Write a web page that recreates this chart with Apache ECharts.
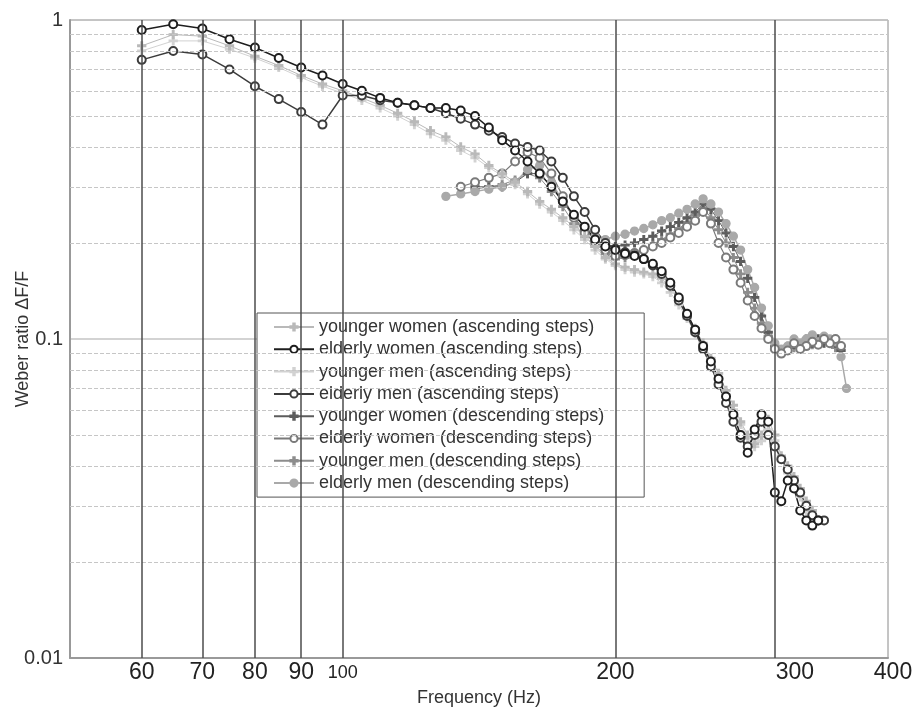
<!DOCTYPE html>
<html>
<head>
<meta charset="utf-8">
<script src="https://cdn.jsdelivr.net/npm/echarts@6/dist/echarts.min.js"></script>
<style>
  html, body { margin: 0; padding: 0; background: #fff; }
  #chart { width: 917px; height: 711px; }
</style>
</head>
<body>
<div id="chart"></div>
<script>
// frequencies (Hz)
const freqAsc = [60, 65, 70, 75, 80, 85, 90, 95, 100, 105, 110, 115, 120, 125, 130, 135, 140, 145, 150, 155,
  160, 165, 170, 175, 180, 185, 190, 195, 200, 205, 210, 215, 220, 225, 230, 235, 240, 245, 250, 255,
  260, 265, 270, 275, 280, 285, 290, 295, 300, 305, 310, 315, 320, 325, 330, 335, 340]
const freqDesc = [360, 355, 350, 345, 340, 335, 330, 325, 320, 315, 310, 305, 300, 295, 290, 285, 280, 275,
  270, 265, 260, 255, 250, 245, 240, 235, 230, 225, 220, 215, 210, 205, 200, 195, 190, 185, 180, 175,
  170, 165, 160, 155, 150, 145, 140, 135, 130]

// Weber ratios, ascending steps
const youngerWomenAsc = [0.83, 0.90, 0.89, 0.83, 0.77, 0.72, 0.67, 0.63, 0.60, 0.57, 0.54, 0.51, 0.48, 0.45, 0.43,
  0.40, 0.38, 0.35, 0.33, 0.31, 0.29, 0.27, 0.255, 0.24, 0.225, 0.21, 0.195, 0.18, 0.172, 0.168, 0.165, 0.162,
  0.16, 0.155, 0.145, 0.133, 0.12, 0.108, 0.097, 0.087, 0.078, 0.069, 0.062, 0.055, 0.05, 0.047, 0.05, 0.056,
  0.05, 0.043, 0.04, 0.037, 0.034, 0.031, 0.029]
const elderlyWomenAsc = [0.93, 0.97, 0.94, 0.87, 0.82, 0.76, 0.71, 0.67, 0.63, 0.60, 0.57, 0.55, 0.54, 0.53, 0.53,
  0.52, 0.50, 0.46, 0.42, 0.39, 0.36, 0.33, 0.30, 0.27, 0.245, 0.225, 0.205, 0.195, 0.19, 0.185, 0.182, 0.178,
  0.172, 0.163, 0.15, 0.135, 0.12, 0.107, 0.095, 0.085, 0.075, 0.066, 0.058, 0.05, 0.044, 0.052, 0.058, 0.055,
  0.033, 0.031, 0.036, 0.034, 0.029, 0.027, 0.026, 0.027]
const youngerMenAsc = [0.80, 0.86, 0.86, 0.81, 0.76, 0.71, 0.66, 0.62, 0.59, 0.56, 0.53, 0.50, 0.47, 0.44, 0.42,
  0.39, 0.37, 0.345, 0.325, 0.305, 0.285, 0.265, 0.25, 0.235, 0.22, 0.205, 0.19, 0.178, 0.17, 0.165, 0.162, 0.16,
  0.157, 0.15, 0.14, 0.128, 0.116, 0.104, 0.094, 0.084, 0.075, 0.067, 0.06, 0.054, 0.049, 0.046, 0.048, 0.052,
  0.048, 0.042, 0.038, 0.035, 0.032, 0.029]
const elderlyMenAsc = [0.75, 0.80, 0.78, 0.70, 0.62, 0.565, 0.515, 0.47, 0.58, 0.58, 0.56, 0.55, 0.54, 0.53, 0.51,
  0.49, 0.47, 0.45, 0.43, 0.41, 0.40, 0.39, 0.36, 0.32, 0.28, 0.25, 0.22, 0.20, 0.192, 0.187, 0.183, 0.178,
  0.17, 0.16, 0.147, 0.132, 0.118, 0.105, 0.093, 0.082, 0.072, 0.063, 0.055, 0.049, 0.046, 0.05, 0.055, 0.05,
  0.046, 0.042, 0.039, 0.036, 0.033, 0.03, 0.028, 0.027, 0.027]

// Weber ratios, descending steps (null = no step at that frequency)
const youngerWomenDesc = [null, 0.092, 0.097, 0.099, 0.097, 0.1, 0.097, 0.098, 0.095, 0.096, 0.094, 0.091, 0.095,
  0.105, 0.118, 0.135, 0.155, 0.175, 0.195, 0.215, 0.235, 0.255, 0.265, 0.25, 0.24, 0.232, 0.225, 0.218, 0.21,
  0.205, 0.2, 0.197, 0.195, 0.195, 0.205, 0.22, 0.24, 0.27, 0.3, 0.33, 0.33, 0.31, 0.30, 0.30, 0.30]
const elderlyWomenDesc = [null, 0.095, 0.1, 0.097, 0.1, 0.096, 0.098, 0.095, 0.093, 0.097, 0.092, 0.09, 0.093, 0.1,
  0.108, 0.118, 0.132, 0.15, 0.165, 0.18, 0.2, 0.23, 0.25, 0.235, 0.225, 0.215, 0.208, 0.2, 0.195, 0.19, 0.186,
  0.183, 0.182, 0.19, 0.2, 0.215, 0.24, 0.28, 0.33, 0.37, 0.385, 0.36, 0.33, 0.32, 0.31, 0.30]
const youngerMenDesc = [null, null, 0.094, 0.098, 0.1, 0.099, 0.096, 0.1, 0.096, 0.094, 0.095, 0.092, 0.094, 0.102,
  0.112, 0.125, 0.14, 0.16, 0.18, 0.2, 0.22, 0.24, 0.258, 0.245, 0.232, 0.222, 0.213, 0.205, 0.198, 0.19, 0.185,
  0.18, 0.178, 0.185, 0.195, 0.21, 0.23, 0.26, 0.29, 0.32, 0.33, 0.315, 0.305, 0.30, 0.295]
const elderlyMenDesc = [0.07, 0.088, 0.098, 0.1, 0.102, 0.098, 0.103, 0.1, 0.097, 0.1, 0.095, 0.093, 0.097, 0.11,
  0.125, 0.145, 0.165, 0.19, 0.21, 0.23, 0.25, 0.265, 0.275, 0.265, 0.255, 0.248, 0.24, 0.235, 0.228, 0.222,
  0.218, 0.213, 0.21, 0.205, 0.21, 0.225, 0.245, 0.27, 0.31, 0.35, 0.34, 0.31, 0.30, 0.295, 0.29, 0.285, 0.28]

const xTicks = [60, 70, 80, 90, 100, 200, 300, 400]
const xGridLines = [60, 70, 80, 90, 100, 200, 300]
const yMinorLines = [0.02, 0.03, 0.04, 0.05, 0.06, 0.07, 0.08, 0.09, 0.2, 0.3, 0.4, 0.5, 0.6, 0.7, 0.8, 0.9]

const legendNames = [
  'younger women (ascending steps)',
  'elderly women (ascending steps)',
  'younger men (ascending steps)',
  'elderly men (ascending steps)',
  'younger women (descending steps)',
  'elderly women (descending steps)',
  'younger men (descending steps)',
  'elderly men (descending steps)',
]

const PLUS = 'path://M4,0H6V4H10V6H6V10H4V6H0V4H4Z'
const FONT = '"Liberation Sans", Arial, Helvetica, sans-serif'

function pairs(freq, vals) {
  const out = []
  vals.forEach((v, i) => { if (v != null) out.push([freq[i], v]) })
  return out
}

function lineSeries(name, freq, vals, color, symbol, size, width, fill) {
  return {
    name,
    type: 'line',
    data: pairs(freq, vals),
    symbol,
    symbolSize: size,
    showAllSymbol: true,
    lineStyle: { color, width },
    itemStyle: { color: fill || color, borderColor: color, borderWidth: 1.3 },
    emphasis: { disabled: true },
    animation: false,
  }
}

// tick label text; 100 is printed smaller, 300 sits right of its line
function xLabel(v) {
  const n = Math.round(v)
  if (n === 100) return '{s|100}'
  if (n === 300) return '{r|300}'
  if (n === 400) return '{q|400}'
  return String(n)
}

const chart = echarts.init(document.getElementById('chart'))

chart.setOption({
  backgroundColor: '#fff',
  animation: false,
  textStyle: { fontFamily: FONT },
  grid: {
    left: 70, right: 29, top: 20, bottom: 53,
    containLabel: false,
    outerBoundsMode: 'none',
    show: true, borderColor: '#8a8a8a', borderWidth: 1,
  },
  legend: {
    data: legendNames,
    orient: 'vertical',
    left: 257,
    top: 313,
    backgroundColor: '#fff',
    borderColor: '#555',
    borderWidth: 1,
    borderRadius: 0,
    padding: [5, 40, 5, 16],
    itemWidth: 40,
    itemHeight: 9,
    itemGap: 4.3,
    selectedMode: false,
    textStyle: { fontSize: 18, color: '#333', fontFamily: FONT, lineHeight: 18 },
  },
  xAxis: {
    type: 'log',
    logBase: 10,
    min: 50,
    max: 400,
    name: 'Frequency (Hz)',
    nameLocation: 'middle',
    nameGap: 27,
    nameTextStyle: { fontSize: 18, color: '#333' },
    axisLine: { show: true, lineStyle: { color: '#999', width: 2 } },
    axisTick: { show: false },
    splitLine: { show: false },
    axisLabel: {
      customValues: xTicks,
      margin: 3,
      color: '#222',
      fontSize: 23,
      formatter: xLabel,
      rich: {
        s: { fontSize: 18, color: '#222', padding: [3, 0, 0, 0] },
        r: { fontSize: 23, color: '#222', padding: [0, 0, 0, 40] },
        q: { fontSize: 23, color: '#222', padding: [0, 0, 0, 10] },
      },
    },
  },
  yAxis: {
    type: 'log',
    logBase: 10,
    min: 0.01,
    max: 1,
    name: 'Weber ratio \u0394F/F',
    nameLocation: 'middle',
    nameGap: 38,
    nameMoveOverlap: false,
    nameTextStyle: { fontSize: 18, color: '#333' },
    axisLine: { show: true, lineStyle: { color: '#999', width: 2 } },
    axisTick: { show: false },
    axisLabel: {
      margin: 7,
      color: '#333',
      fontSize: 20,
      formatter: v => String(Number(v.toPrecision(2))),
    },
    splitLine: { show: true, lineStyle: { color: '#c4c4c4', width: 1.5 } },
  },
  series: [
    {
      name: 'grid',
      type: 'line',
      data: [],
      silent: true,
      z: 1,
      markLine: {
        silent: true,
        symbol: ['none', 'none'],
        animation: false,
        label: { show: false },
        data: [
          ...yMinorLines.map(v => ({ yAxis: v, lineStyle: { color: '#c6c6c6', width: 1, type: [4, 2] } })),
          ...xGridLines.map(v => ({ xAxis: v, lineStyle: { color: '#4d4d4d', width: 1.5, type: 'solid' } })),
        ],
      },
    },
    lineSeries(legendNames[6], freqDesc, youngerMenDesc, '#8d8d8d', PLUS, 8, 1),
    lineSeries(legendNames[4], freqDesc, youngerWomenDesc, '#5c5c5c', PLUS, 8, 1),
    lineSeries(legendNames[7], freqDesc, elderlyMenDesc, '#a9a9a9', 'circle', 8, 1.5, '#a9a9a9'),
    lineSeries(legendNames[5], freqDesc, elderlyWomenDesc, '#7a7a7a', 'emptyCircle', 8, 1.2),
    lineSeries(legendNames[2], freqAsc, youngerMenAsc, '#d2d2d2', PLUS, 8, 1),
    lineSeries(legendNames[0], freqAsc, youngerWomenAsc, '#b9b9b9', PLUS, 8, 1),
    lineSeries(legendNames[3], freqAsc, elderlyMenAsc, '#3c3c3c', 'emptyCircle', 8, 1.5),
    lineSeries(legendNames[1], freqAsc, elderlyWomenAsc, '#1e1e1e', 'emptyCircle', 8, 1.5),
  ],
})
</script>
</body>
</html>
